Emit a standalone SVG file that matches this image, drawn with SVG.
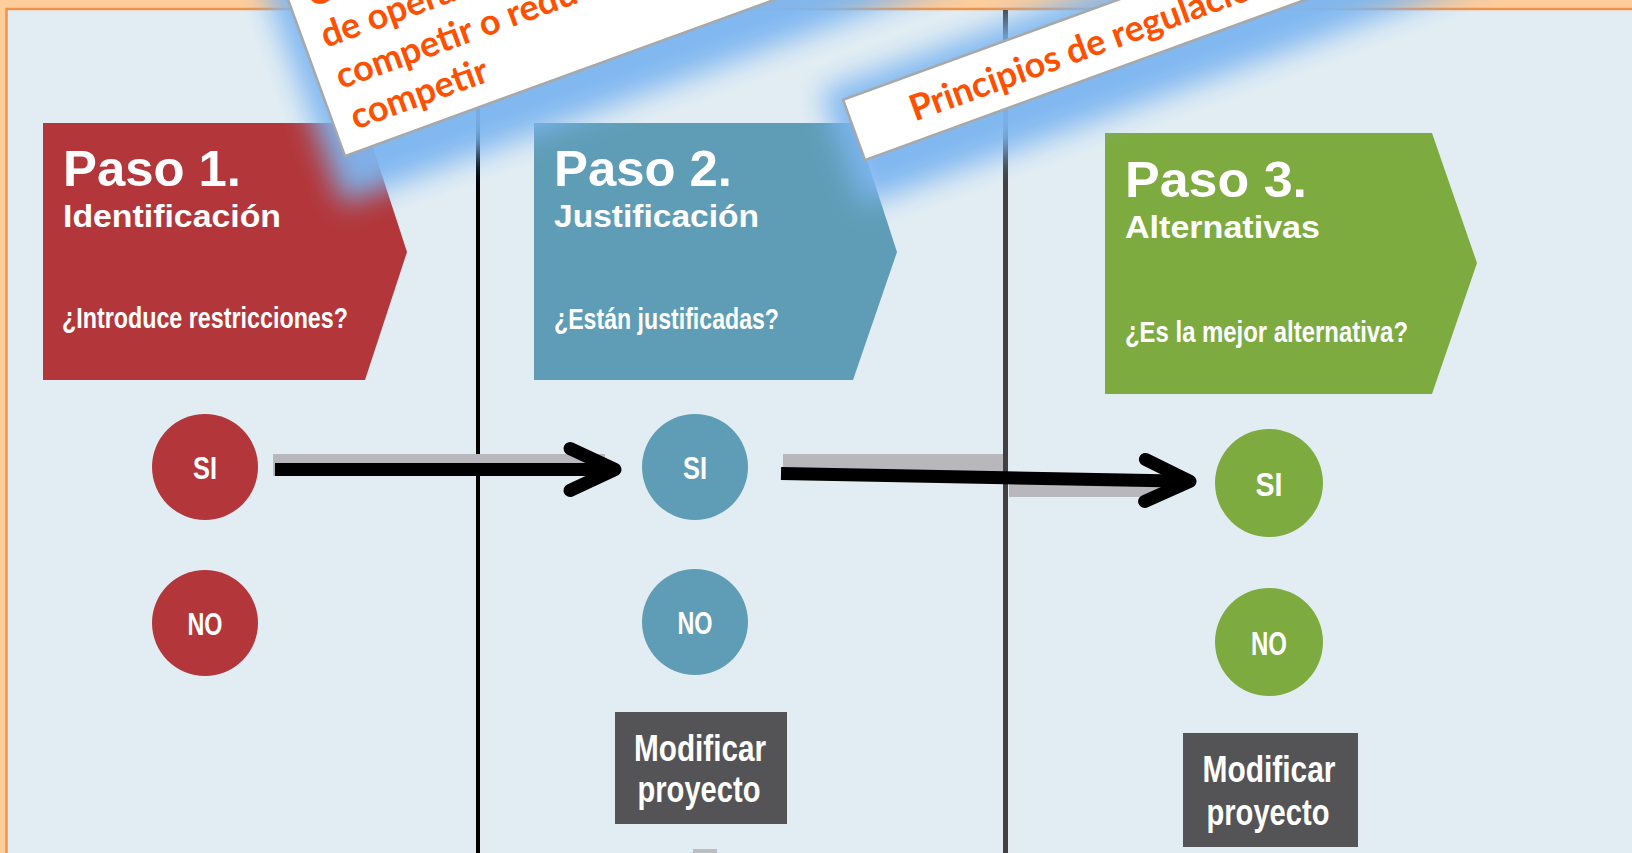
<svg xmlns="http://www.w3.org/2000/svg" width="1632" height="853" viewBox="0 0 1632 853">
<style>
.title{font-family:"Liberation Sans",Arial,sans-serif;font-weight:bold;fill:#fff;font-size:50px}
.sub{font-family:"Liberation Sans",Arial,sans-serif;font-weight:bold;fill:#fff;font-size:31px}
.q{font-family:"Liberation Sans Narrow","Liberation Sans",Arial,sans-serif;font-weight:bold;fill:#fff;font-size:29px}
.lbl{font-family:"Liberation Sans Narrow","Liberation Sans",Arial,sans-serif;font-weight:bold;fill:#fff;font-size:31px;text-anchor:middle}
.mod{font-family:"Liberation Sans Narrow","Liberation Sans",Arial,sans-serif;font-weight:bold;fill:#fff;font-size:36px;text-anchor:middle}
.ct{font-family:Lato,"Open Sans","Liberation Sans",sans-serif;font-weight:bold;fill:#FF4F00;font-size:36px}
.red{fill:#B3373A}
.blue{fill:#5F9DB6}
.green{fill:#7DAB40}
.modbox{fill:#545457}
.shadow{fill:#B7B7BC}
.arrow{stroke:#000;stroke-width:13;fill:none}
.glow{fill:#7DB6F0;opacity:0.95}
.card{fill:#fff;stroke:#A8A8A8;stroke-width:2.5}
</style>
<defs>
<filter id="blur" x="-0.3" y="-0.6" width="1.6" height="2.2">
<feGaussianBlur stdDeviation="14"/>
</filter>
<marker id="chev" markerUnits="userSpaceOnUse" orient="auto" refX="0" refY="0" markerWidth="120" markerHeight="120" overflow="visible">
<path d="M-45,-21 L0,0 L-45,21" fill="none" stroke="#000" stroke-width="13" stroke-linecap="round" stroke-linejoin="round"/>
</marker>
</defs>

<g id="frame">
<rect x="0" y="0" width="1632" height="853" fill="#FFCD9A"/>
<rect x="6.5" y="9" width="1640" height="860" fill="#E2EDF3" stroke="#F0924A" stroke-width="2.5"/>
</g>

<g id="dividers">
<line x1="478" y1="10" x2="478" y2="853" stroke="#000" stroke-width="4"/>
<line x1="1005.5" y1="10" x2="1005.5" y2="853" stroke="#404042" stroke-width="5"/>
</g>

<g id="step1">
<polygon class="red" points="43,123 365,123 407,252 365,380 43,380"/>
<text class="title" x="63" y="186" textLength="178" lengthAdjust="spacingAndGlyphs">Paso 1.</text>
<text class="sub" x="63" y="227" textLength="218" lengthAdjust="spacingAndGlyphs">Identificación</text>
<text class="q" x="62" y="328" textLength="286" lengthAdjust="spacingAndGlyphs">¿Introduce restricciones?</text>
</g>
<g id="step2">
<polygon class="blue" points="534,123 855,123 897,252 853,380 534,380"/>
<text class="title" x="554" y="186" textLength="178" lengthAdjust="spacingAndGlyphs">Paso 2.</text>
<text class="sub" x="554" y="227" textLength="205" lengthAdjust="spacingAndGlyphs">Justificación</text>
<text class="q" x="554" y="329" textLength="225" lengthAdjust="spacingAndGlyphs">¿Están justificadas?</text>
</g>
<g id="step3">
<polygon class="green" points="1105,133 1432,133 1477,263 1432,394 1105,394"/>
<text class="title" x="1125" y="197" textLength="182" lengthAdjust="spacingAndGlyphs">Paso 3.</text>
<text class="sub" x="1125" y="238" textLength="195" lengthAdjust="spacingAndGlyphs">Alternativas</text>
<text class="q" x="1125" y="342" textLength="283" lengthAdjust="spacingAndGlyphs">¿Es la mejor alternativa?</text>
</g>

<g id="si1"><circle class="red" cx="205" cy="467" r="53"/><text class="lbl" x="205" y="479" textLength="24" lengthAdjust="spacingAndGlyphs">SI</text></g>
<g id="no1"><circle class="red" cx="205" cy="623" r="53"/><text class="lbl" x="205" y="635" textLength="35" lengthAdjust="spacingAndGlyphs">NO</text></g>
<g id="si2"><circle class="blue" cx="695" cy="467" r="53"/><text class="lbl" x="695" y="479" textLength="24" lengthAdjust="spacingAndGlyphs">SI</text></g>
<g id="no2"><circle class="blue" cx="695" cy="622" r="53"/><text class="lbl" x="695" y="634" textLength="35" lengthAdjust="spacingAndGlyphs">NO</text></g>
<g id="si3"><circle class="green" cx="1269" cy="483" r="54"/><text class="lbl" x="1269" y="496" style="font-size:34px" textLength="27" lengthAdjust="spacingAndGlyphs">SI</text></g>
<g id="no3"><circle class="green" cx="1269" cy="642" r="54"/><text class="lbl" x="1269" y="655" style="font-size:34px" textLength="36" lengthAdjust="spacingAndGlyphs">NO</text></g>

<g id="modificar2">
<rect class="modbox" x="615" y="712" width="172" height="112"/>
<text class="mod" x="700" y="761" textLength="132" lengthAdjust="spacingAndGlyphs">Modificar</text>
<text class="mod" x="699" y="802" textLength="123" lengthAdjust="spacingAndGlyphs">proyecto</text>
<rect x="693" y="849" width="24" height="4" fill="#BDBDC0"/>
</g>
<g id="modificar3">
<rect class="modbox" x="1183" y="733" width="175" height="114"/>
<text class="mod" x="1269" y="782" textLength="133" lengthAdjust="spacingAndGlyphs">Modificar</text>
<text class="mod" x="1268" y="825" textLength="123" lengthAdjust="spacingAndGlyphs">proyecto</text>
</g>

<g id="connectors">
<rect class="shadow" x="273" y="454" width="332" height="22"/>
<rect class="shadow" x="783" y="454" width="220" height="26"/>
<rect class="shadow" x="1009" y="479" width="162" height="18"/>
<path class="arrow" d="M275,469.5 L615,469.5" marker-end="url(#chev)"/>
<path class="arrow" d="M781,473.5 L1190,481.3" marker-end="url(#chev)"/>
</g>

<g id="callout1" transform="translate(345,156) rotate(-20)">
<rect class="glow" x="-18" y="-218" width="756" height="262" filter="url(#blur)"/>
<rect class="card" x="0" y="-200" width="720" height="200"/>
<text class="ct" x="19" y="-151">Capacidad</text>
<text class="ct" x="19" y="-108">de operadores para</text>
<text class="ct" x="19" y="-64">competir o reducen incentivos</text>
<text class="ct" x="19" y="-21">competir</text>
</g>

<g id="callout2" transform="translate(865,160) rotate(-20)">
<rect class="glow" x="-18" y="-80" width="776" height="122" filter="url(#blur)"/>
<rect class="card" x="0" y="-64" width="740" height="64"/>
<text class="ct" x="60" y="-19">Principios de regulación</text>
</g>
</svg>
